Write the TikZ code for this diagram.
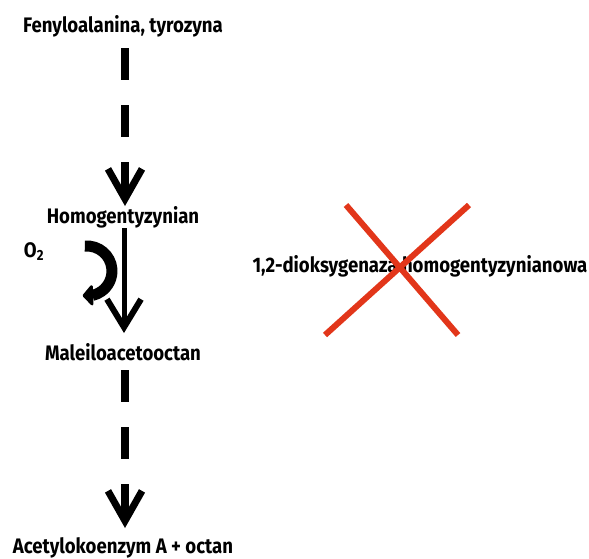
\documentclass[tikz,border=0pt]{standalone}
\usepackage{fontspec}
\setmainfont{Fira Sans}[FakeStretch=0.885]
\usetikzlibrary{arrows.meta,bending}
\definecolor{xred}{HTML}{E2361A}
\begin{document}
\begin{tikzpicture}[x=1pt,y=-1pt,
  lbl/.style={inner sep=0pt,anchor=base,font=\fontsize{21}{24}\selectfont\bfseries},
  dasharrow/.style={line width=8pt,dash pattern=on 32pt off 25pt,
     -{Straight Barb[length=30pt,width=34pt,line width=7pt]}},
  solidarrow/.style={line width=5pt,-{Straight Barb[length=28pt,width=34pt,line width=6pt]}},
  curvearrow/.style={line width=11pt,-{Triangle[length=11pt,width=24pt,round,flex]}},
  cross/.style={xred,line width=6pt}]
\useasboundingbox (0,0) rectangle (589,558);
\node[lbl] (fen) at (123,32) {Fenyloalanina, tyrozyna};
\node[lbl] (hom) at (123,223) {Homogentyzynian};
\node[lbl] (mal) at (123,360) {Maleiloacetooctan};
\node[lbl] (ace) at (123,553) {Acetylokoenzym A + octan};
\node[lbl] (o2) at (34,257) {O\textsubscript{2}};
\node[lbl] (enz) at (420,272) {1,2-dioksygenaza homogentyzynianowa};
\coordinate (a1s) at (125,48);
\coordinate (a1e) at (125,206);
\coordinate (a2s) at (124,228);
\coordinate (a2e) at (124,333);
\coordinate (a3s) at (125,370);
\coordinate (a3e) at (125,528);
\draw[dasharrow] (a1s) -- (a1e);
\draw[solidarrow] (a2s) -- (a2e);
\draw[dasharrow] (a3s) -- (a3e);
\draw[curvearrow] (84.8,246.1) arc[start angle=-95,end angle=100,radius=25];
\coordinate (x1a) at (346,205);
\coordinate (x1b) at (458,335);
\coordinate (x2a) at (469,205);
\coordinate (x2b) at (325,335);
\draw[cross] (x1a) -- (x1b);
\draw[cross] (x2a) -- (x2b);
\end{tikzpicture}
\end{document}
